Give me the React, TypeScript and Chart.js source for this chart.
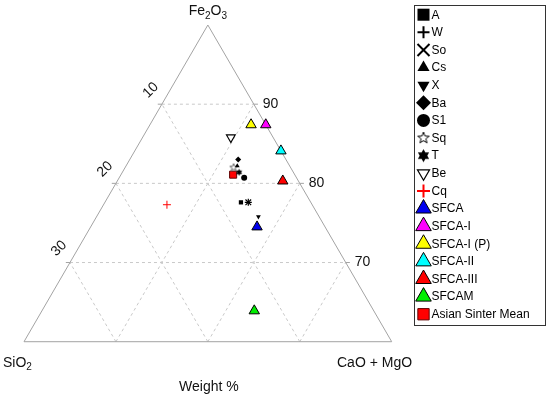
import React, { useEffect, useRef } from 'react';
import { Chart, registerables } from 'chart.js';
Chart.register(...registerables);

// ---- data ----
const seriesNames = ['A', 'W', 'So', 'Cs', 'X', 'Ba', 'S1', 'Sq', 'T', 'Be', 'Cq', 'SFCA', 'SFCA-I', 'SFCA-I (P)', 'SFCA-II', 'SFCA-III', 'SFCAM', 'Asian Sinter Mean'];
const fe2o3 = [77.6, 77.6, 77.6, 82.2, 75.8, 83.0, 80.7, 82.0, 81.4, 85.8, 77.3, 74.5, 87.4, 87.4, 84.1, 80.3, 63.9, 81.1];
const caoMgo = [14.8, 15.6, 15.6, 12.1, 17.6, 11.8, 13.6, 11.8, 12.7, 9.6, 6.9, 18.1, 12.6, 11.0, 15.9, 18.0, 23.1, 12.2];
const sio2 = [7.6, 6.8, 6.8, 5.7, 6.6, 5.2, 5.7, 6.2, 5.9, 4.6, 15.8, 7.4, 0.0, 1.6, 0.0, 1.7, 13.0, 6.7];
const leftTickLabels = [10, 20, 30]; // SiO2 along left edge
const rightTickLabels = [90, 80, 70]; // Fe2O3 along right edge
const gridSteps = [10, 20, 30];
const FE_MIN = 60;
const SPAN = 40;

// ternary -> cartesian (x: CaO + (Fe-60)/2, y: Fe-60)
function toXY(si: number, ca: number, fe: number) {
  const t = si + ca + fe;
  const c = (ca / t) * 100;
  const f = (fe / t) * 100;
  return { x: c + (f - FE_MIN) / 2, y: f - FE_MIN };
}

function starCanvas(size: number, n: number, inner: number, fill: string, stroke: string, lw: number) {
  const cv = document.createElement('canvas');
  cv.width = size + 2;
  cv.height = size + 2;
  const c = cv.getContext('2d')!;
  const cx = cv.width / 2, cy = cv.height / 2;
  const R = size / 2, r = R * inner;
  c.beginPath();
  for (let i = 0; i < n * 2; i++) {
    const rad = (i * Math.PI) / n - Math.PI / 2;
    const rr = i % 2 === 0 ? R : r;
    const px = cx + Math.cos(rad) * rr, py = cy + Math.sin(rad) * rr;
    if (i === 0) c.moveTo(px, py); else c.lineTo(px, py);
  }
  c.closePath();
  c.fillStyle = fill;
  c.fill();
  if (lw > 0) {
    c.lineWidth = lw;
    c.strokeStyle = stroke;
    c.stroke();
  }
  return cv;
}

type Spec = { style: any; r: number; rot?: number; fill: string; stroke: string; lw: number };

function makeSpecs(legend: boolean): Spec[] {
  const k = legend;
  return [
    { style: 'rect', r: k ? 8.5 : 3, fill: '#000', stroke: '#000', lw: 0 },
    { style: 'cross', r: k ? 6 : 3.5, fill: '#000', stroke: '#000', lw: k ? 2 : 1.2 },
    { style: 'crossRot', r: k ? 8.5 : 4, fill: '#000', stroke: '#000', lw: k ? 2 : 1.2 },
    { style: 'triangle', r: k ? 7 : 2.8, fill: '#000', stroke: '#000', lw: 0 },
    { style: 'triangle', r: k ? 7 : 2.8, rot: 180, fill: '#000', stroke: '#000', lw: 0 },
    { style: 'rectRot', r: k ? 7.5 : 3, fill: '#000', stroke: '#000', lw: 0 },
    { style: 'circle', r: k ? 6.5 : 3, fill: '#000', stroke: '#000', lw: 0 },
    { style: starCanvas(k ? 12 : 8, 5, 0.42, '#fff', k ? '#000' : '#666', 1), r: 4, fill: '#fff', stroke: '#000', lw: 0 },
    { style: starCanvas(k ? 13 : 7, 6, 0.58, '#000', '#000', 0), r: 4, fill: '#000', stroke: '#000', lw: 0 },
    { style: 'triangle', r: k ? 7 : 5, rot: 180, fill: '#fff', stroke: '#000', lw: 1.2 },
    { style: 'cross', r: k ? 6.5 : 4, fill: '#ff0000', stroke: '#ff0000', lw: k ? 2 : 1 },
    { style: 'triangle', r: k ? 9 : 6, fill: '#0000ee', stroke: '#000', lw: 1 },
    { style: 'triangle', r: k ? 9 : 6, fill: '#ff00ff', stroke: '#000', lw: 1 },
    { style: 'triangle', r: k ? 9 : 6, fill: '#ffff00', stroke: '#000', lw: 1 },
    { style: 'triangle', r: k ? 9 : 6, fill: '#00ffff', stroke: '#000', lw: 1 },
    { style: 'triangle', r: k ? 9 : 6, fill: '#ff0000', stroke: '#000', lw: 1 },
    { style: 'triangle', r: k ? 9 : 6, fill: '#00ee00', stroke: '#000', lw: 1 },
    { style: 'rect', r: k ? 8 : 5, fill: '#ff0000', stroke: '#600000', lw: 1 },
  ];
}

function drawShape(ctx: CanvasRenderingContext2D, s: Spec, x: number, y: number) {
  if (typeof s.style === 'object') {
    const im = s.style as HTMLCanvasElement;
    ctx.drawImage(im, x - im.width / 2, y - im.height / 2);
    return;
  }
  const r = s.r;
  let rad = ((s.rot || 0) * Math.PI) / 180;
  ctx.save();
  ctx.fillStyle = s.fill;
  ctx.strokeStyle = s.stroke;
  ctx.lineWidth = s.lw;
  ctx.beginPath();
  if (s.style === 'rect') {
    const h = r * Math.SQRT1_2;
    ctx.rect(x - h, y - h, 2 * h, 2 * h);
  } else if (s.style === 'circle') {
    ctx.arc(x, y, r, 0, Math.PI * 2);
  } else if (s.style === 'triangle') {
    for (let i = 0; i < 3; i++) {
      const a = rad + (i * 2 * Math.PI) / 3;
      const px = x + Math.sin(a) * r, py = y - Math.cos(a) * r;
      if (i === 0) ctx.moveTo(px, py); else ctx.lineTo(px, py);
    }
    ctx.closePath();
  } else if (s.style === 'rectRot') {
    ctx.moveTo(x, y - r); ctx.lineTo(x + r, y); ctx.lineTo(x, y + r); ctx.lineTo(x - r, y); ctx.closePath();
  } else if (s.style === 'cross' || s.style === 'crossRot') {
    if (s.style === 'crossRot') rad += Math.PI / 4;
    const dx = Math.cos(rad) * r, dy = Math.sin(rad) * r;
    ctx.moveTo(x - dx, y - dy); ctx.lineTo(x + dx, y + dy);
    ctx.moveTo(x - dy, y + dx); ctx.lineTo(x + dy, y - dx);
    ctx.stroke();
    ctx.restore();
    return;
  }
  ctx.fill();
  if (s.lw > 0) ctx.stroke();
  ctx.restore();
}

const FONT = '"Liberation Sans", Arial, sans-serif';

export default function App() {
  const ref = useRef<HTMLCanvasElement>(null);
  useEffect(() => {
    document.body.style.margin = '0';
    const plotSpecs = makeSpecs(false);
    const legendSpecs = makeSpecs(true);

    const gridColor = '#c9c9c9';
    const lineDs = (pts: { x: number; y: number }[], color: string, dash: number[], order: number) => ({
      type: 'scatter' as const,
      data: pts,
      showLine: true,
      borderColor: color,
      borderWidth: 1,
      borderDash: dash,
      pointRadius: 0,
      order,
      clip: false as any,
    });

    const datasets: any[] = [];
    // point series
    seriesNames.forEach((name, i) => {
      const s = plotSpecs[i];
      datasets.push({
        label: name,
        data: [toXY(sio2[i], caoMgo[i], fe2o3[i])],
        pointStyle: s.style,
        pointRadius: s.r,
        pointRotation: s.rot || 0,
        backgroundColor: s.fill,
        borderColor: s.stroke,
        borderWidth: s.lw,
        order: 0,
        clip: false,
      });
    });
    // grid lines
    gridSteps.forEach((g) => {
      // horizontal Fe = const
      datasets.push(lineDs([{ x: g / 2, y: g }, { x: SPAN - g / 2, y: g }], gridColor, [3, 3], 5));
      // constant CaO = g
      datasets.push(lineDs([{ x: g, y: 0 }, { x: SPAN / 2 + g / 2, y: SPAN - g }], gridColor, [3, 3], 5));
      // constant SiO2 = g
      datasets.push(lineDs([{ x: SPAN - g, y: 0 }, { x: (SPAN - g) / 2, y: SPAN - g }], gridColor, [3, 3], 5));
    });
    // outline
    datasets.push(lineDs([{ x: 0, y: 0 }, { x: SPAN, y: 0 }, { x: SPAN / 2, y: SPAN }, { x: 0, y: 0 }], '#a3a3a3', [], 4));
    // tick marks
    gridSteps.forEach((g) => {
      datasets.push(lineDs([{ x: g / 2 - 0.45, y: g }, { x: g / 2, y: g }], '#a3a3a3', [], 4));
      datasets.push(lineDs([{ x: SPAN - g / 2, y: g }, { x: SPAN - g / 2 + 0.45, y: g }], '#a3a3a3', [], 4));
    });

    const textPlugin = {
      id: 'ternaryText',
      afterDraw(chart: any) {
        const ctx: CanvasRenderingContext2D = chart.ctx;
        const xs = chart.scales.x, ys = chart.scales.y;
        const px = (v: number) => xs.getPixelForValue(v);
        const py = (v: number) => ys.getPixelForValue(v);
        ctx.save();
        ctx.fillStyle = '#111';
        // left labels (SiO2)
        ctx.font = '14px ' + FONT;
        ctx.textAlign = 'center';
        ctx.textBaseline = 'middle';
        leftTickLabels.forEach((v) => {
          const fe = 100 - v;
          const x0 = px((fe - FE_MIN) / 2), y0 = py(fe - FE_MIN);
          ctx.save();
          ctx.translate(x0 - 11, y0 - 14);
          ctx.rotate((-45 * Math.PI) / 180);
          ctx.fillText(String(v), 0, 0);
          ctx.restore();
        });
        // right labels (Fe2O3)
        ctx.textAlign = 'left';
        rightTickLabels.forEach((v) => {
          const g = v - FE_MIN;
          ctx.fillText(String(v), px(SPAN - g / 2) + 9, py(g));
        });
        // vertex titles with subscripts
        const drawSub = (parts: [string, boolean][], x: number, yb: number, align: 'left' | 'center') => {
          const big = '14px ' + FONT, small = '10px ' + FONT;
          let w = 0;
          parts.forEach(([t, sub]) => { ctx.font = sub ? small : big; w += ctx.measureText(t).width; });
          let cx = align === 'center' ? x - w / 2 : x;
          ctx.textAlign = 'left';
          ctx.textBaseline = 'alphabetic';
          parts.forEach(([t, sub]) => {
            ctx.font = sub ? small : big;
            ctx.fillText(t, cx, sub ? yb + 3.5 : yb);
            cx += ctx.measureText(t).width;
          });
        };
        drawSub([['Fe', false], ['2', true], ['O', false], ['3', true]], px(SPAN / 2), 15, 'center');
        drawSub([['SiO', false], ['2', true]], 3, 366.5, 'left');
        drawSub([['CaO + MgO', false]], 337, 366.5, 'left');
        ctx.font = '14px ' + FONT;
        ctx.textAlign = 'center';
        ctx.fillText('Weight %', px(SPAN / 2) + 1, 391);
        ctx.restore();

        // legend
        ctx.save();
        ctx.strokeStyle = '#333';
        ctx.lineWidth = 1;
        ctx.strokeRect(414.5, 5.5, 131, 320);
        seriesNames.forEach((name, i) => {
          const y = 14.7 + i * 17.62;
          drawShape(ctx, legendSpecs[i], 423.5, y);
          ctx.fillStyle = '#000';
          ctx.font = '12px ' + FONT;
          ctx.textAlign = 'left';
          ctx.textBaseline = 'middle';
          ctx.fillText(name, 431.5, y + 0.5);
        });
        ctx.restore();
      },
    };

    const chart = new Chart(ref.current!, {
      type: 'scatter',
      data: { datasets },
      options: {
        animation: false,
        responsive: false,
        events: [],
        layout: { padding: 0, autoPadding: false },
        plugins: { legend: { display: false }, tooltip: { enabled: false } },
        scales: {
          x: { type: 'linear', display: false, min: -2.611, max: 57.22 },
          y: { type: 'linear', display: false, min: -7.11, max: 43.158 },
        },
      },
      plugins: [textPlugin],
    });
    return () => chart.destroy();
  }, []);
  return (
    <div style={{ width: 550, height: 398, background: '#fff' }}>
      <canvas ref={ref} width={550} height={398} style={{ display: 'block' }} />
    </div>
  );
}
